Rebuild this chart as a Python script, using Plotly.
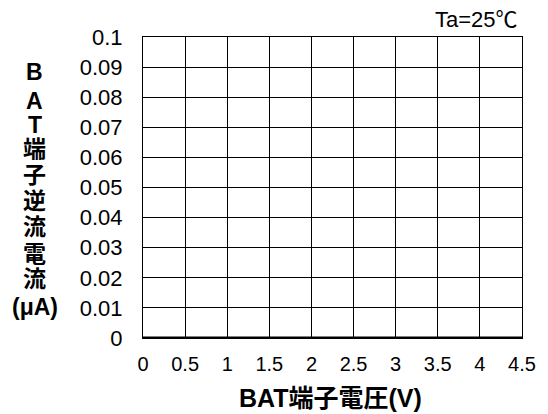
import plotly.graph_objects as go

# Data
voltage = [0, 0.5, 1, 1.5, 2, 2.5, 3, 3.5, 4, 4.5]
reverse_current = [0, 0, 0, 0, 0, 0, 0, 0, 0, 0]
x_ticks = [0, 0.5, 1, 1.5, 2, 2.5, 3, 3.5, 4, 4.5]
x_tick_labels = ["0", "0.5", "1", "1.5", "2", "2.5", "3", "3.5", "4", "4.5"]
y_ticks = [0, 0.01, 0.02, 0.03, 0.04, 0.05, 0.06, 0.07, 0.08, 0.09, 0.1]
y_tick_labels = ["0", "0.01", "0.02", "0.03", "0.04", "0.05", "0.06", "0.07", "0.08", "0.09", "0.1"]
x_title = "BAT端子電圧(V)"
y_title_chars = ["B", "A", "T", "端", "子", "逆", "流", "電", "流", "(μA)"]
condition = "Ta=25℃"

FONT = "Liberation Sans, Arial, Noto Sans CJK JP, sans-serif"

# layout constants (pixels)
L, R, T, B = 143, 26, 37, 76
W, H = 548, 414
PW, PH = W - L - R, H - T - B
ytitle_centers_px = [72, 101, 125, 149, 175, 201, 227, 254, 279, 307]

fig = go.Figure()
fig.add_trace(go.Scatter(x=voltage, y=reverse_current, mode="lines",
                         line=dict(color="black", width=3), showlegend=False,
                         cliponaxis=False))

fig.update_layout(
    width=W, height=H,
    margin=dict(l=L, r=R, t=T, b=B, autoexpand=False),
    paper_bgcolor="white", plot_bgcolor="white",
    font=dict(family=FONT, color="black", size=20),
    xaxis=dict(range=[0, 4.5], tickvals=x_ticks, ticktext=x_tick_labels,
               showgrid=True, gridcolor="black", gridwidth=1,
               showline=True, linecolor="black", linewidth=1, mirror=True,
               zeroline=False, ticks="", ticklen=0, ticklabelstandoff=8,
               tickfont=dict(size=20)),
    yaxis=dict(range=[0, 0.1], tickvals=y_ticks, ticktext=y_tick_labels,
               showgrid=True, gridcolor="black", gridwidth=1,
               showline=True, linecolor="black", linewidth=1, mirror=True,
               zeroline=False, ticks="", ticklen=0, ticklabelstandoff=15,
               tickfont=dict(size=22)),
)

for ch, cy in zip(y_title_chars, ytitle_centers_px):
    fig.add_annotation(text="<b>" + ch + "</b>",
                       xref="paper", yref="paper", x=(35 - L) / PW, y=(H - B - cy) / PH,
                       xanchor="center", yanchor="middle", showarrow=False,
                       font=dict(size=23))
fig.add_annotation(text="<b>" + x_title + "</b>",
                   xref="paper", yref="paper", x=(330 - L) / PW, y=-(398 - (H - B)) / PH,
                   xanchor="center", yanchor="middle", showarrow=False,
                   font=dict(size=25))
fig.add_annotation(text=condition, xref="paper", yref="paper", x=(520 - L) / PW,
                   y=1 + (T - 19) / PH,
                   xanchor="right", yanchor="middle", showarrow=False,
                   font=dict(size=22))

fig.write_html("out.html", config={"displayModeBar": False},
               post_script="document.body.style.margin='0';")
